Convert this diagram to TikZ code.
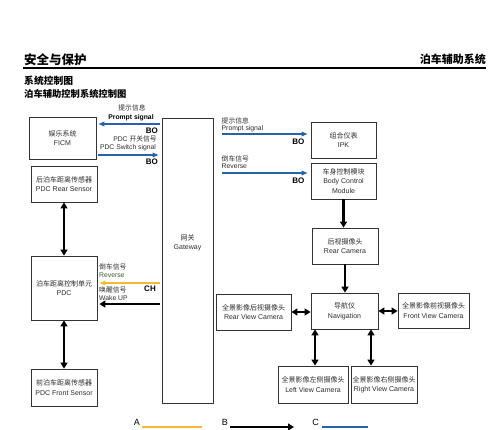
\documentclass[tikz,border=0pt]{standalone}
\usepackage{fontspec}
\setmainfont{Liberation Sans}
\newfontfamily\cjk{Noto Sans CJK SC}
\newcommand\zh[1]{{\cjk #1}}
\usetikzlibrary{arrows.meta,calc}
\definecolor{sigblue}{RGB}{38,100,168}
\definecolor{sigorange}{RGB}{245,185,50}
\definecolor{txtgray}{RGB}{45,45,45}
\definecolor{revgreen}{RGB}{55,95,40}
\begin{document}
\begin{tikzpicture}[x=1pt,y=-1pt,
  box/.style={draw=black!80,line width=0.8pt,align=center,inner sep=0pt,
    text=txtgray,font=\fontsize{7}{9.5}\selectfont},
  lbl/.style={text=txtgray,font=\fontsize{6.8}{8}\selectfont,inner sep=0pt},
  tag/.style={font=\bfseries\fontsize{8}{9}\selectfont,inner sep=0pt},
  blk/.style={line width=2.2pt,-{Triangle[length=6pt,width=7pt]}},
  dbl/.style={line width=2.2pt,{Triangle[length=6pt,width=7pt]}-{Triangle[length=6pt,width=7pt]}},
  blu/.style={line width=2pt,draw=sigblue,-{Triangle[length=6pt,width=4.5pt]}},
  org/.style={line width=2pt,draw=sigorange,-{Triangle[length=6pt,width=4.5pt]}}]
\useasboundingbox (0,0) rectangle (500,429);
\fill[white] (0,0) rectangle (500,429);

% header
\node[anchor=west,inner sep=0pt,font=\bfseries\fontsize{12.5}{13}\selectfont] (t1) at (24,60) {\zh{安全与保护}};
\node[anchor=east,inner sep=0pt,font=\bfseries\fontsize{11}{12}\selectfont] (t2) at (486,59.5) {\zh{泊车辅助系统}};
\coordinate (hl) at (23,68);
\coordinate (hr) at (486,68);
\draw[line width=1.8pt] (hl) -- (hr);
\node[anchor=west,inner sep=0pt,font=\bfseries\fontsize{9.8}{10}\selectfont] (t3) at (24,81) {\zh{系统控制图}};
\node[anchor=west,inner sep=0pt,font=\bfseries\fontsize{9.3}{10}\selectfont] (t4) at (24,94) {\zh{泊车辅助控制系统控制图}};

% boxes
\node[box,minimum width=67pt,minimum height=42pt] (FICM) at (62.5,138) {\zh{娱乐系统}\\FICM};
\node[box,minimum width=66pt,minimum height=36pt] (RS) at (64,184) {\zh{后泊车距离传感器}\\PDC Rear Sensor};
\node[box,minimum width=51pt,minimum height=285pt] (GW) at (187.5,260.5) {};
\node[box,draw=none] (GWt) at (187.5,243) {\zh{网关}\\Gateway};
\node[box,minimum width=66pt,minimum height=64pt] (PDC) at (64,288) {\zh{泊车距离控制单元}\\PDC};
\node[box,minimum width=66pt,minimum height=37pt] (FS) at (64,387.5) {\zh{前泊车距离传感器}\\PDC Front Sensor};
\node[box,minimum width=65pt,minimum height=36pt] (IPK) at (343.5,140) {\zh{组合仪表}\\IPK};
\node[box,minimum width=65pt,minimum height=36pt] (BCM) at (343.5,181) {\zh{车身控制模块}\\Body Control\\Module};
\node[box,minimum width=66pt,minimum height=36pt] (RC) at (345,246) {\zh{后视摄像头}\\Rear Camera};
\node[box,minimum width=67pt,minimum height=36pt] (NAV) at (344.5,311) {\zh{导航仪}\\Navigation};
\node[box,minimum width=75pt,minimum height=36pt] (RVC) at (253.5,312) {\zh{全景影像后视摄像头}\\Rear View Camera};
\node[box,minimum width=71pt,minimum height=35pt] (FVC) at (433.5,310.5) {\zh{全景影像前视摄像头}\\Front View Camera};
\node[box,minimum width=70pt,minimum height=37pt] (LVC) at (313,384.5) {\zh{全景影像左侧摄像头}\\Left View Camera};
\node[box,minimum width=66pt,minimum height=37pt] (RtVC) at (384,384.5) {\zh{全景影像右侧摄像头}\\Right View Camera};

% vertical black connections
\draw[dbl] (RS.south) -- (PDC.north);
\draw[dbl] (PDC.south) -- (FS.north);
\draw[blk] (BCM.south) -- (BCM.south |- RC.north);
\draw[blk] (RC.south) -- (RC.south |- NAV.north);
\draw[dbl] (RVC.east) -- (RVC.east -| NAV.west);
\draw[dbl] (NAV.east) -- (NAV.east -| FVC.west);
\path (NAV.south) ++(-29.5,0) coordinate (n1);
\path (NAV.south) ++(26.5,0) coordinate (n2);
\draw[dbl] (n1) -- (n1 |- LVC.north);
\draw[dbl] (n2) -- (n2 |- RtVC.north);

% left side signals
\coordinate (y1) at (0,124);
\coordinate (y2) at (0,155);
\coordinate (y3) at (0,283);
\coordinate (y4) at (0,304);
\draw[blu,shorten <=2pt,shorten >=2pt] (GW.west |- y1) -- (FICM.east |- y1);
\draw[blu,shorten <=2pt,shorten >=3pt] (FICM.east |- y2) -- (GW.west |- y2);
\draw[org,shorten <=2pt,shorten >=2pt] (GW.west |- y3) -- (PDC.east |- y3);
\draw[blk,shorten <=2pt,shorten >=2pt] (GW.west |- y4) -- (PDC.east |- y4);

\node[lbl] (l1) at (132,108) {\zh{提示信息}};
\node[lbl,font=\bfseries\fontsize{6.8}{8}\selectfont,text=black] (l2) at (131,118) {Prompt signal};
\node[tag,anchor=east] (b1) at (158,130.5) {BO};
\node[lbl] (l3) at (135,138.5) {PDC \zh{开关信号}};
\node[lbl] (l4) at (128,147.5) {PDC Switch signal};
\node[tag,anchor=east] (b2) at (158,162) {BO};

\node[lbl,anchor=west] (l5) at (99,267) {\zh{倒车信号}};
\node[lbl,anchor=west,text=revgreen] (l6) at (99,275) {Reverse};
\node[tag,anchor=east] (c1) at (156,288.5) {CH};
\node[lbl,anchor=west] (l7) at (99,290) {\zh{唤醒信号}};
\node[lbl,anchor=west] (l8) at (99,298) {Wake UP};

% right side signals
\coordinate (y5) at (0,134);
\coordinate (y6) at (0,173);
\draw[blu,shorten <=9pt,shorten >=3pt] (GW.east |- y5) -- (IPK.west |- y5);
\draw[blu,shorten <=9pt,shorten >=3pt] (GW.east |- y6) -- (BCM.west |- y6);
\node[lbl,anchor=west] (r1) at (221.5,121) {\zh{提示信息}};
\node[lbl,anchor=west] (r2) at (221.5,128.5) {Prompt signal};
\node[tag,anchor=east] (b3) at (304.5,142) {BO};
\node[lbl,anchor=west] (r3) at (221.5,158.5) {\zh{倒车信号}};
\node[lbl,anchor=west] (r4) at (221.5,166) {Reverse};
\node[tag,anchor=east] (b4) at (304.5,181) {BO};

% legend
\node[anchor=east,inner sep=0pt,font=\fontsize{9}{10}\selectfont] (LA) at (140,422.5) {A};
\coordinate (a1) at (142,427);
\coordinate (a2) at (202,427);
\draw[line width=2pt,sigorange] (a1) -- (a2);
\node[anchor=east,inner sep=0pt,font=\fontsize{9}{10}\selectfont] (LB) at (228,422.5) {B};
\coordinate (bb1) at (230,427);
\coordinate (bb2) at (294,427);
\draw[blk,line width=1.6pt] (bb1) -- (bb2);
\node[anchor=east,inner sep=0pt,font=\fontsize{9}{10}\selectfont] (LC) at (319,422.5) {C};
\coordinate (c1a) at (322,427);
\coordinate (c2a) at (368,427);
\draw[line width=2pt,sigblue] (c1a) -- (c2a);
\end{tikzpicture}
\end{document}
